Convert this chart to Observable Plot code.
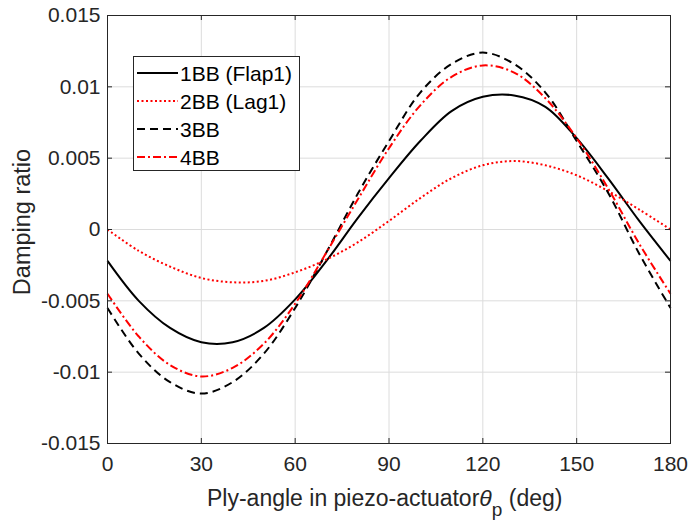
<!DOCTYPE html>
<html>
<head>
<meta charset="utf-8">
<script src="https://cdn.jsdelivr.net/npm/d3@7"></script>
<script src="https://cdn.jsdelivr.net/npm/@observablehq/plot@0.6"></script>
<style>
  html, body { margin: 0; padding: 0; background: #fff; }
  svg { display: block; }
</style>
</head>
<body>
<div id="chart"></div>
<script>
// Ply-angle (deg)
const angles = [0, 10, 20, 30, 40, 50, 60, 70, 80, 90, 100, 110, 120, 130, 140, 150, 160, 170, 180];
// Damping ratio per mode
const bb1 = [-0.0022, -0.0050, -0.0069, -0.0079, -0.0079, -0.0069, -0.0049, -0.0022, 0.0008, 0.0036, 0.0062, 0.0083, 0.0093, 0.0094, 0.0086, 0.0064, 0.0036, 0.0006, -0.0022];
const bb2 = [0.0000, -0.0015, -0.0026, -0.0034, -0.0037, -0.0036, -0.0030, -0.0021, -0.0009, 0.0006, 0.0022, 0.0036, 0.0045, 0.0048, 0.0045, 0.0038, 0.0027, 0.0014, 0.0000];
const bb3 = [-0.0055, -0.0087, -0.0107, -0.0115, -0.0107, -0.0087, -0.0055, -0.0016, 0.0025, 0.0062, 0.0096, 0.0116, 0.0124, 0.0116, 0.0096, 0.0062, 0.0026, -0.0017, -0.0055];
const bb4 = [-0.0045, -0.0075, -0.0095, -0.0103, -0.0097, -0.0080, -0.0052, -0.0016, 0.0021, 0.0057, 0.0087, 0.0107, 0.0115, 0.0110, 0.0092, 0.0064, 0.0029, -0.0010, -0.0045];

const seriesNames = ["1BB (Flap1)", "2BB (Lag1)", "3BB", "4BB"];
const seriesValues = [bb1, bb2, bb3, bb4];
const seriesColors = ["#000000", "#ff0000", "#000000", "#ff0000"];
const seriesDash = [null, "2,2.5", "8,5", "8,3,2,3"];

const xTicks = [0, 30, 60, 90, 120, 150, 180];
const yTicks = [-0.015, -0.01, -0.005, 0, 0.005, 0.01, 0.015];

const font = "'Liberation Sans', Arial, Helvetica, sans-serif";
const axisColor = "#262626";

const W = 691, H = 521, mL = 107, mR = 21, mT = 15, mB = 78;
const frameW = W - mL - mR, frameH = H - mT - mB, tick = 5;

const lineMarks = seriesValues.map((vals, k) => Plot.line(vals, {
  x: (d, i) => angles[i],
  y: d => d,
  stroke: seriesColors[k],
  strokeWidth: 2,
  strokeDasharray: seriesDash[k],
  strokeLinecap: "butt",
  curve: "catmull-rom"
}));

const svg = Plot.plot({
  width: W,
  height: H,
  marginLeft: mL,
  marginRight: mR,
  marginTop: mT,
  marginBottom: mB,
  style: { fontFamily: font, fontSize: "21px", color: axisColor, background: "#fff" },
  x: { domain: [0, 180] },
  y: { domain: [-0.015, 0.015] },
  marks: [
    Plot.gridX(xTicks, { stroke: "#dcdcdc", strokeOpacity: 1 }),
    Plot.gridY(yTicks, { stroke: "#dcdcdc", strokeOpacity: 1 }),
    ...lineMarks,
    // inward tick marks on all four sides
    Plot.ruleX(xTicks, { stroke: axisColor, insetTop: frameH - tick }),
    Plot.ruleX(xTicks, { stroke: axisColor, insetBottom: frameH - tick }),
    Plot.ruleY(yTicks, { stroke: axisColor, insetRight: frameW - tick }),
    Plot.ruleY(yTicks, { stroke: axisColor, insetLeft: frameW - tick }),
    Plot.axisX(xTicks, { anchor: "bottom", tickSize: 0, tickPadding: 13, label: null, tickFormat: d => String(d), fill: axisColor }),
    Plot.axisY(yTicks, { anchor: "left", tickSize: 0, tickPadding: 7, label: null, tickFormat: d => String(d), fill: axisColor }),
    Plot.frame({ stroke: axisColor, strokeWidth: 1 })
  ]
});

const root = d3.select(svg);

// Axis titles
root.append("text")
  .attr("transform", "translate(30,222) rotate(-90)")
  .attr("text-anchor", "middle")
  .attr("font-family", font)
  .attr("font-size", 23.5)
  .attr("fill", axisColor)
  .text("Damping ratio");

const xl = root.append("text")
  .attr("x", 207)
  .attr("y", 506)
  .attr("text-anchor", "start")
  .attr("font-family", font)
  .attr("font-size", 23)
  .attr("fill", axisColor);
xl.append("tspan").text("Ply-angle in piezo-actuator");
xl.append("tspan").attr("font-style", "italic").text("θ");
xl.append("tspan").attr("dy", 10).attr("font-size", 19).text("p");
xl.append("tspan").attr("dy", -10).text(" (deg)");

// Legend
const lg = root.append("g");
lg.append("rect")
  .attr("x", 133.5).attr("y", 56.5)
  .attr("width", 166).attr("height", 114)
  .attr("fill", "#fff")
  .attr("stroke", axisColor)
  .attr("stroke-width", 1);
const rowY = [73, 101, 129, 157];
seriesNames.forEach((name, k) => {
  lg.append("line")
    .attr("x1", 137).attr("x2", 178)
    .attr("y1", rowY[k]).attr("y2", rowY[k])
    .attr("stroke", seriesColors[k])
    .attr("stroke-width", 2)
    .attr("stroke-dasharray", seriesDash[k]);
  lg.append("text")
    .attr("x", 180).attr("y", rowY[k]).attr("dy", "0.36em")
    .attr("text-anchor", "start")
    .attr("font-family", font)
    .attr("font-size", 21)
    .attr("fill", "#000")
    .text(name);
});

document.getElementById("chart").appendChild(svg);
</script>
</body>
</html>
